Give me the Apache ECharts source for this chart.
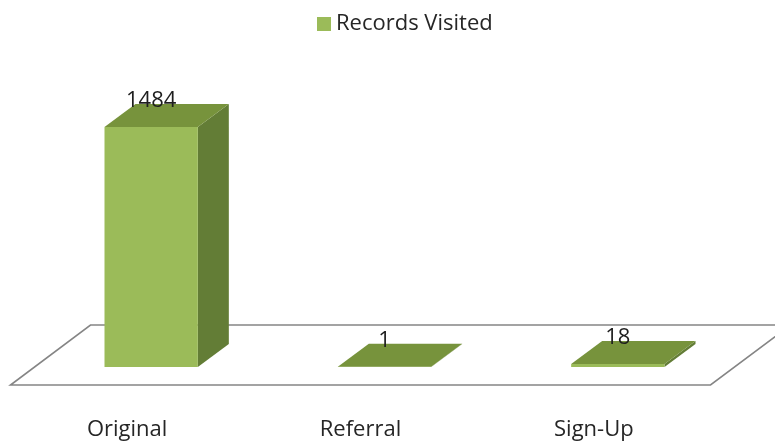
<!DOCTYPE html>
<html>
<head>
<meta charset="utf-8">
<script src="https://cdn.jsdelivr.net/npm/echarts@6/dist/echarts.min.js"></script>
<style>
html,body{margin:0;padding:0;background:#fff;}
#chart{width:775px;height:443px;}
</style>
</head>
<body>
<div id="chart"></div>
<script>
const categories = ['Original', 'Referral', 'Sign-Up'];
const recordsVisited = [1484, 1, 18];
const seriesName = 'Records Visited';

const FONT = '"Open Sans", sans-serif';
const FRONT = '#9bbb59', TOP = '#77933c', SIDE = '#637d36';
const DX = 31, DY = -23;          // bar depth offset
const FLOOR_SHIFT = [-24, 18];    // floor front edge relative to bar front base
const FLOOR_DEPTH = [80, -60];

const chart = echarts.init(document.getElementById('chart'));

function renderFloor(params, api) {
  const cs = params.coordSys;
  const yF = cs.y + cs.height + FLOOR_SHIFT[1];
  const xL = cs.x + FLOOR_SHIFT[0], xR = cs.x + cs.width + FLOOR_SHIFT[0];
  return {
    type: 'polygon',
    silent: true,
    shape: { points: [[xL, yF], [xR, yF], [xR + FLOOR_DEPTH[0], yF + FLOOR_DEPTH[1]], [xL + FLOOR_DEPTH[0], yF + FLOOR_DEPTH[1]]] },
    style: { fill: '#ffffff', stroke: '#858585', lineWidth: 1.6 }
  };
}

function renderBar(params, api) {
  const c = api.value(0), v = api.value(1);
  const top = api.coord([c, v]);
  const base = api.coord([c, 0]);
  const bw = api.size([1, 0])[0] * 0.4;
  const x0 = top[0] - bw / 2, x1 = top[0] + bw / 2;
  const yT = top[1], yB = base[1];
  return {
    type: 'group',
    children: [
      { type: 'polygon', shape: { points: [[x1, yB], [x1 + DX, yB + DY], [x1 + DX, yT + DY], [x1, yT]] }, style: { fill: SIDE } },
      { type: 'rect', shape: { x: x0, y: yT, width: bw, height: Math.max(yB - yT, 0) }, style: { fill: FRONT } },
      { type: 'polygon', shape: { points: [[x0, yT], [x1, yT], [x1 + DX, yT + DY], [x0 + DX, yT + DY]] }, style: { fill: TOP } },
      { type: 'text', style: { text: String(v), x: top[0], y: yT - 26, align: 'center', verticalAlign: 'middle', font: '22px ' + FONT, fill: '#1e1e1e' } }
    ]
  };
}

chart.setOption({
  animation: false,
  backgroundColor: '#ffffff',
  legend: {
    data: [seriesName],
    left: 312, top: 8,
    icon: 'rect', itemWidth: 14, itemHeight: 14, itemGap: 8,
    textStyle: { fontFamily: FONT, fontSize: 22, color: '#262626' }
  },
  grid: [
    { left: 34.5, right: 40.5, top: 43.5, bottom: 76 },
    { left: 10.5, right: 64.5, top: 380, bottom: 58 }
  ],
  xAxis: [
    { type: 'category', data: categories, gridIndex: 0, show: false },
    { type: 'category', data: categories, gridIndex: 1,
      axisLine: { show: false }, axisTick: { show: false },
      axisLabel: { margin: 34, fontFamily: FONT, fontSize: 22, color: '#262626' } }
  ],
  yAxis: [
    { type: 'value', min: 0, max: 2000, gridIndex: 0, show: false },
    { type: 'value', gridIndex: 1, show: false }
  ],
  series: [
    { type: 'custom', name: 'floor', xAxisIndex: 0, yAxisIndex: 0, renderItem: renderFloor, data: [[0, 0]], z: 1, silent: true },
    { type: 'custom', name: seriesName, xAxisIndex: 0, yAxisIndex: 0, renderItem: renderBar,
      itemStyle: { color: FRONT },
      encode: { x: 0, y: 1 },
      data: categories.map((c, i) => [i, recordsVisited[i]]), z: 2 }
  ]
});
</script>
</body>
</html>
